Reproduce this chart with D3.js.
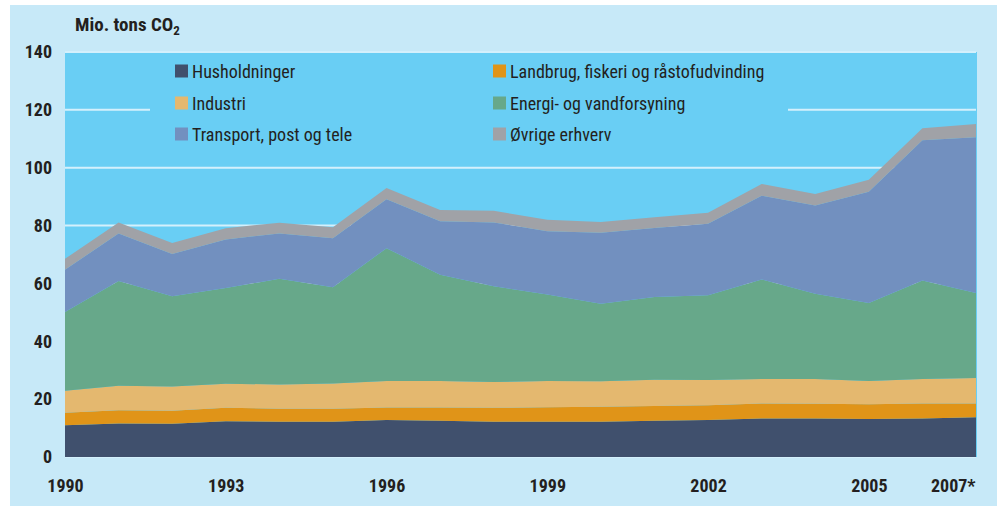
<!DOCTYPE html>
<html>
<head>
<meta charset="utf-8">
<script src="https://cdn.jsdelivr.net/npm/d3@7"></script>
<style>
  body { margin: 0; background: #fff; }
  svg text { font-family: "Liberation Sans Narrow", "Roboto Condensed", "Roboto", sans-serif; fill: #231f20; }
</style>
</head>
<body>
<div id="chart"></div>
<script>
// years on the x axis (2007 is preliminary)
const years = [1990, 1991, 1992, 1993, 1994, 1995, 1996, 1997, 1998, 1999,
  2000, 2001, 2002, 2003, 2004, 2005, 2006, 2007];

// Mio. tons CO2 per sector
const husholdninger = [11.0, 11.6, 11.5, 12.4, 12.2, 12.2, 12.8, 12.5, 12.2, 12.2, 12.2, 12.5, 12.8, 13.3, 13.3, 13.1, 13.3, 13.7];
const landbrug = [4.3, 4.6, 4.5, 4.6, 4.5, 4.5, 4.3, 4.6, 4.8, 5.0, 5.2, 5.1, 5.1, 5.2, 5.1, 5.1, 5.2, 4.8];
const industri = [7.6, 8.4, 8.4, 8.3, 8.4, 8.7, 9.2, 9.2, 8.9, 9.1, 8.8, 9.1, 8.7, 8.5, 8.6, 8.1, 8.5, 8.8];
const energi = [27.2, 36.2, 31.2, 33.1, 36.5, 33.3, 45.9, 36.7, 33.1, 29.9, 26.8, 28.6, 29.3, 34.4, 29.4, 26.9, 34.0, 29.4];
const transport = [14.6, 16.5, 14.6, 16.8, 15.7, 16.9, 16.9, 18.5, 22.1, 21.8, 24.5, 23.9, 24.7, 28.9, 30.5, 38.5, 48.5, 53.8];
const ovrige = [3.8, 3.8, 3.8, 3.9, 3.7, 3.8, 3.9, 3.9, 4.0, 4.0, 3.7, 3.7, 3.8, 4.1, 4.0, 4.1, 4.1, 4.6];

const seriesNames = ["Husholdninger", "Landbrug, fiskeri og råstofudvinding", "Industri",
  "Energi- og vandforsyning", "Transport, post og tele", "Øvrige erhverv"];
const seriesValues = [husholdninger, landbrug, industri, energi, transport, ovrige];
const colors = ["#40506d", "#e09418", "#e4b86f", "#67a88a", "#7290bf", "#a0a2a7"];

const xTicks = [1990, 1993, 1996, 1999, 2002, 2005, 2007];
const yTicks = [0, 20, 40, 60, 80, 100, 120, 140];

const W = 997, H = 506;
const plot = { left: 65, right: 976, top: 52, bottom: 457 };

const svg = d3.select("#chart").append("svg")
  .attr("width", W)
  .attr("height", H);

svg.append("rect")
  .attr("x", 10).attr("y", 5)
  .attr("width", W - 10).attr("height", H - 5)
  .attr("fill", "#c7e9f8");

const x = d3.scaleLinear().domain([1990, 2007]).range([plot.left, plot.right]);
const y = d3.scaleLinear().domain([0, 140]).range([plot.bottom, plot.top]);

// plot background
svg.append("rect")
  .attr("x", plot.left).attr("y", plot.top)
  .attr("width", plot.right - plot.left + 1)
  .attr("height", plot.bottom - plot.top)
  .attr("fill", "#69cef4");

// gridlines
svg.append("g")
  .selectAll("line")
  .data(yTicks)
  .enter().append("line")
  .attr("x1", plot.left)
  .attr("x2", plot.right)
  .attr("y1", d => y(d))
  .attr("y2", d => y(d))
  .attr("stroke", "#d4f0fc")
  .attr("stroke-width", 2);

// stacked areas
const table = years.map((yr, i) => {
  const row = { year: yr };
  seriesNames.forEach((name, k) => { row[name] = seriesValues[k][i]; });
  return row;
});

const stack = d3.stack().keys(seriesNames);
const layers = stack(table);

const area = d3.area()
  .x(d => x(d.data.year))
  .y0(d => y(d[0]))
  .y1(d => y(d[1]));

svg.append("g")
  .selectAll("path")
  .data(layers)
  .enter().append("path")
  .attr("d", area)
  .attr("fill", (d, i) => colors[i]);

// y axis labels
const yAxis = svg.append("g")
  .attr("transform", `translate(${plot.left - 13},0)`)
  .call(d3.axisLeft(y).tickValues(yTicks).tickSize(0).tickPadding(0));
yAxis.select(".domain").remove();
yAxis.selectAll("text")
  .style("font-size", "18px")
  .style("font-weight", "bold")
  .attr("fill", "#231f20");

// x axis labels
const xAxis = svg.append("g")
  .attr("transform", `translate(0,${plot.bottom + 22})`)
  .call(d3.axisBottom(x).tickValues(xTicks).tickSize(0).tickPadding(0)
    .tickFormat(d => d === 2007 ? "2007*" : String(d)));
xAxis.select(".domain").remove();
xAxis.selectAll("text")
  .style("font-size", "18px")
  .style("font-weight", "bold")
  .attr("fill", "#231f20")
  .attr("text-anchor", d => d === 2007 ? "end" : "middle")
  .attr("dx", d => d === 2007 ? "-1" : "0");

// unit title
const title = svg.append("text")
  .attr("x", 75)
  .attr("y", 31)
  .style("font-size", "19px")
  .style("font-weight", "bold");
title.append("tspan").text("Mio. tons CO");
title.append("tspan").attr("dy", 4).style("font-size", "13px").text("2");

// legend
const legend = svg.append("g");
legend.append("rect")
  .attr("x", 150).attr("y", 58)
  .attr("width", 638).attr("height", 92)
  .attr("fill", "#69cef4");

const legendItems = legend.selectAll("g.item")
  .data(seriesNames)
  .enter().append("g")
  .attr("class", "item")
  .attr("transform", (d, i) => `translate(${i % 2 === 0 ? 175 : 493},${[71, 103, 134][Math.floor(i / 2)]})`);

legendItems.append("rect")
  .attr("x", 0).attr("y", -6.5)
  .attr("width", 13).attr("height", 13)
  .attr("fill", (d, i) => colors[i]);

legendItems.append("text")
  .attr("x", 17)
  .attr("y", 6.5)
  .style("font-size", "18px")
  .text(d => d);
</script>
</body>
</html>
